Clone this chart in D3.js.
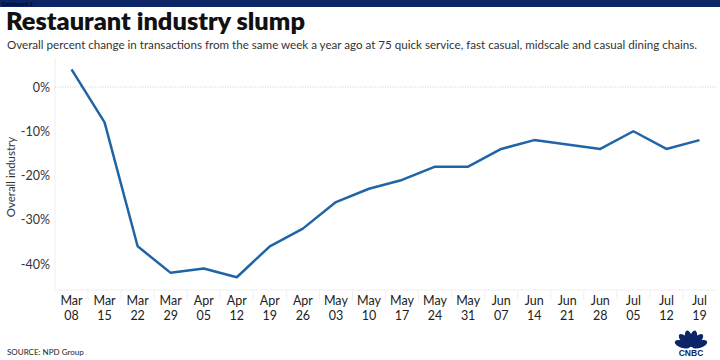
<!DOCTYPE html>
<html><head><meta charset="utf-8">
<script src="https://cdn.jsdelivr.net/npm/d3@7"></script>
<style>body{margin:0;background:#fff;}svg{display:block;font-family:Lato,"Open Sans",sans-serif;}</style>
</head><body>
<script>
const weeks = ["Mar 08","Mar 15","Mar 22","Mar 29","Apr 05","Apr 12","Apr 19","Apr 26","May 03","May 10","May 17","May 24","May 31","Jun 07","Jun 14","Jun 21","Jun 28","Jul 05","Jul 12","Jul 19"];
const values = [4,-8,-36,-42,-41,-43,-36,-32,-26,-23,-21,-18,-18,-14,-12,-13,-14,-10,-14,-12];
const yTicks = [0,-10,-20,-30,-40];

(function(){
const W=720,H=360;
const svg=d3.select("body").append("svg").attr("width",W).attr("height",H);
svg.append("rect").attr("x",0).attr("y",0).attr("width",W).attr("height",7).attr("fill","#0b2566");
svg.append("text").attr("x",2).attr("y",5.5).attr("font-size",5.5).attr("fill","#000").text("Dashboard 2");
svg.append("text").attr("x",6).attr("y",30).attr("font-size",24.5).attr("font-weight",800).attr("fill","#111")
  .attr("textLength",299).attr("lengthAdjust","spacingAndGlyphs").text("Restaurant industry slump");
svg.append("text").attr("x",7).attr("y",49).attr("font-size",11.6).attr("fill","#333")
  .attr("textLength",690).attr("lengthAdjust","spacingAndGlyphs")
  .text("Overall percent change in transactions from the same week a year ago at 75 quick service, fast casual, midscale and casual dining chains.");

const pl=55,pr=716,pt=58,pb=290;
const x=d3.scaleBand().domain(weeks).range([pl,pr]);
const y=d3.scaleLinear().domain([0,-40]).range([87,264]);

svg.append("line").attr("x1",pl).attr("x2",pl).attr("y1",pt).attr("y2",pb).attr("stroke","#efefef");
svg.append("line").attr("x1",pl).attr("x2",pr).attr("y1",pb).attr("y2",pb).attr("stroke","#efefef");
svg.append("line").attr("x1",pl).attr("x2",pr).attr("y1",y(0)).attr("y2",y(0)).attr("stroke","#cfcfcf").attr("stroke-dasharray","1,1.5");

const ya=svg.append("g").attr("transform",`translate(${pl},0)`).call(d3.axisLeft(y).tickValues(yTicks).tickSize(0).tickPadding(5).tickFormat(d=>d+"%"));
ya.select(".domain").remove();
ya.selectAll("text").attr("font-size",12.5).attr("fill","#333").attr("font-family","Lato,sans-serif");
svg.append("text").attr("transform",`translate(15,${(pt+pb)/2+3}) rotate(-90)`).attr("text-anchor","middle").attr("font-size",11.5).attr("fill","#333").text("Overall industry");

const xa=svg.append("g").attr("transform",`translate(0,${pb})`).call(d3.axisBottom(x).tickSize(0).tickFormat(()=>""));
xa.select(".domain").remove();
weeks.forEach((w,i)=>{
  const cx=x(w)+x.bandwidth()/2;
  const parts=w.split(" ");
  svg.append("text").attr("x",cx).attr("y",305).attr("text-anchor","middle").attr("font-size",12.5).attr("fill","#222").text(parts[0]);
  svg.append("text").attr("x",cx).attr("y",319.5).attr("text-anchor","middle").attr("font-size",12.5).attr("fill","#222").text(parts[1]);
  if(i>0) svg.append("line").attr("x1",x(w)).attr("x2",x(w)).attr("y1",pb).attr("y2",pb+10).attr("stroke","#f0f0f0");
});

const line=d3.line().x((d,i)=>x(weeks[i])+x.bandwidth()/2).y(d=>y(d));
svg.append("path").datum(values).attr("d",line).attr("fill","none").attr("stroke","#1f65a6").attr("stroke-width",2.5).attr("stroke-linejoin","round");

svg.append("text").attr("x",7).attr("y",355).attr("font-size",8).attr("fill","#222").text("SOURCE: NPD Group");

const lg=svg.append("g").attr("transform","translate(691,347)");
const fcol="#0b2566";
[-72,-43,-14,14,43,72].forEach(a=>{
  lg.append("ellipse").attr("cx",0).attr("cy",-9).attr("rx",3.6).attr("ry",8).attr("fill",fcol).attr("transform",`rotate(${a},0,0)`);
});
lg.append("rect").attr("x",-4).attr("y",-3).attr("width",8).attr("height",3).attr("fill",fcol);
lg.append("text").attr("x",0).attr("y",8.5).attr("text-anchor","middle").attr("font-size",8.5).attr("font-weight",900).attr("fill",fcol).attr("font-family","Arial,Liberation Sans,sans-serif").text("CNBC");
})();
</script>
</body></html>
